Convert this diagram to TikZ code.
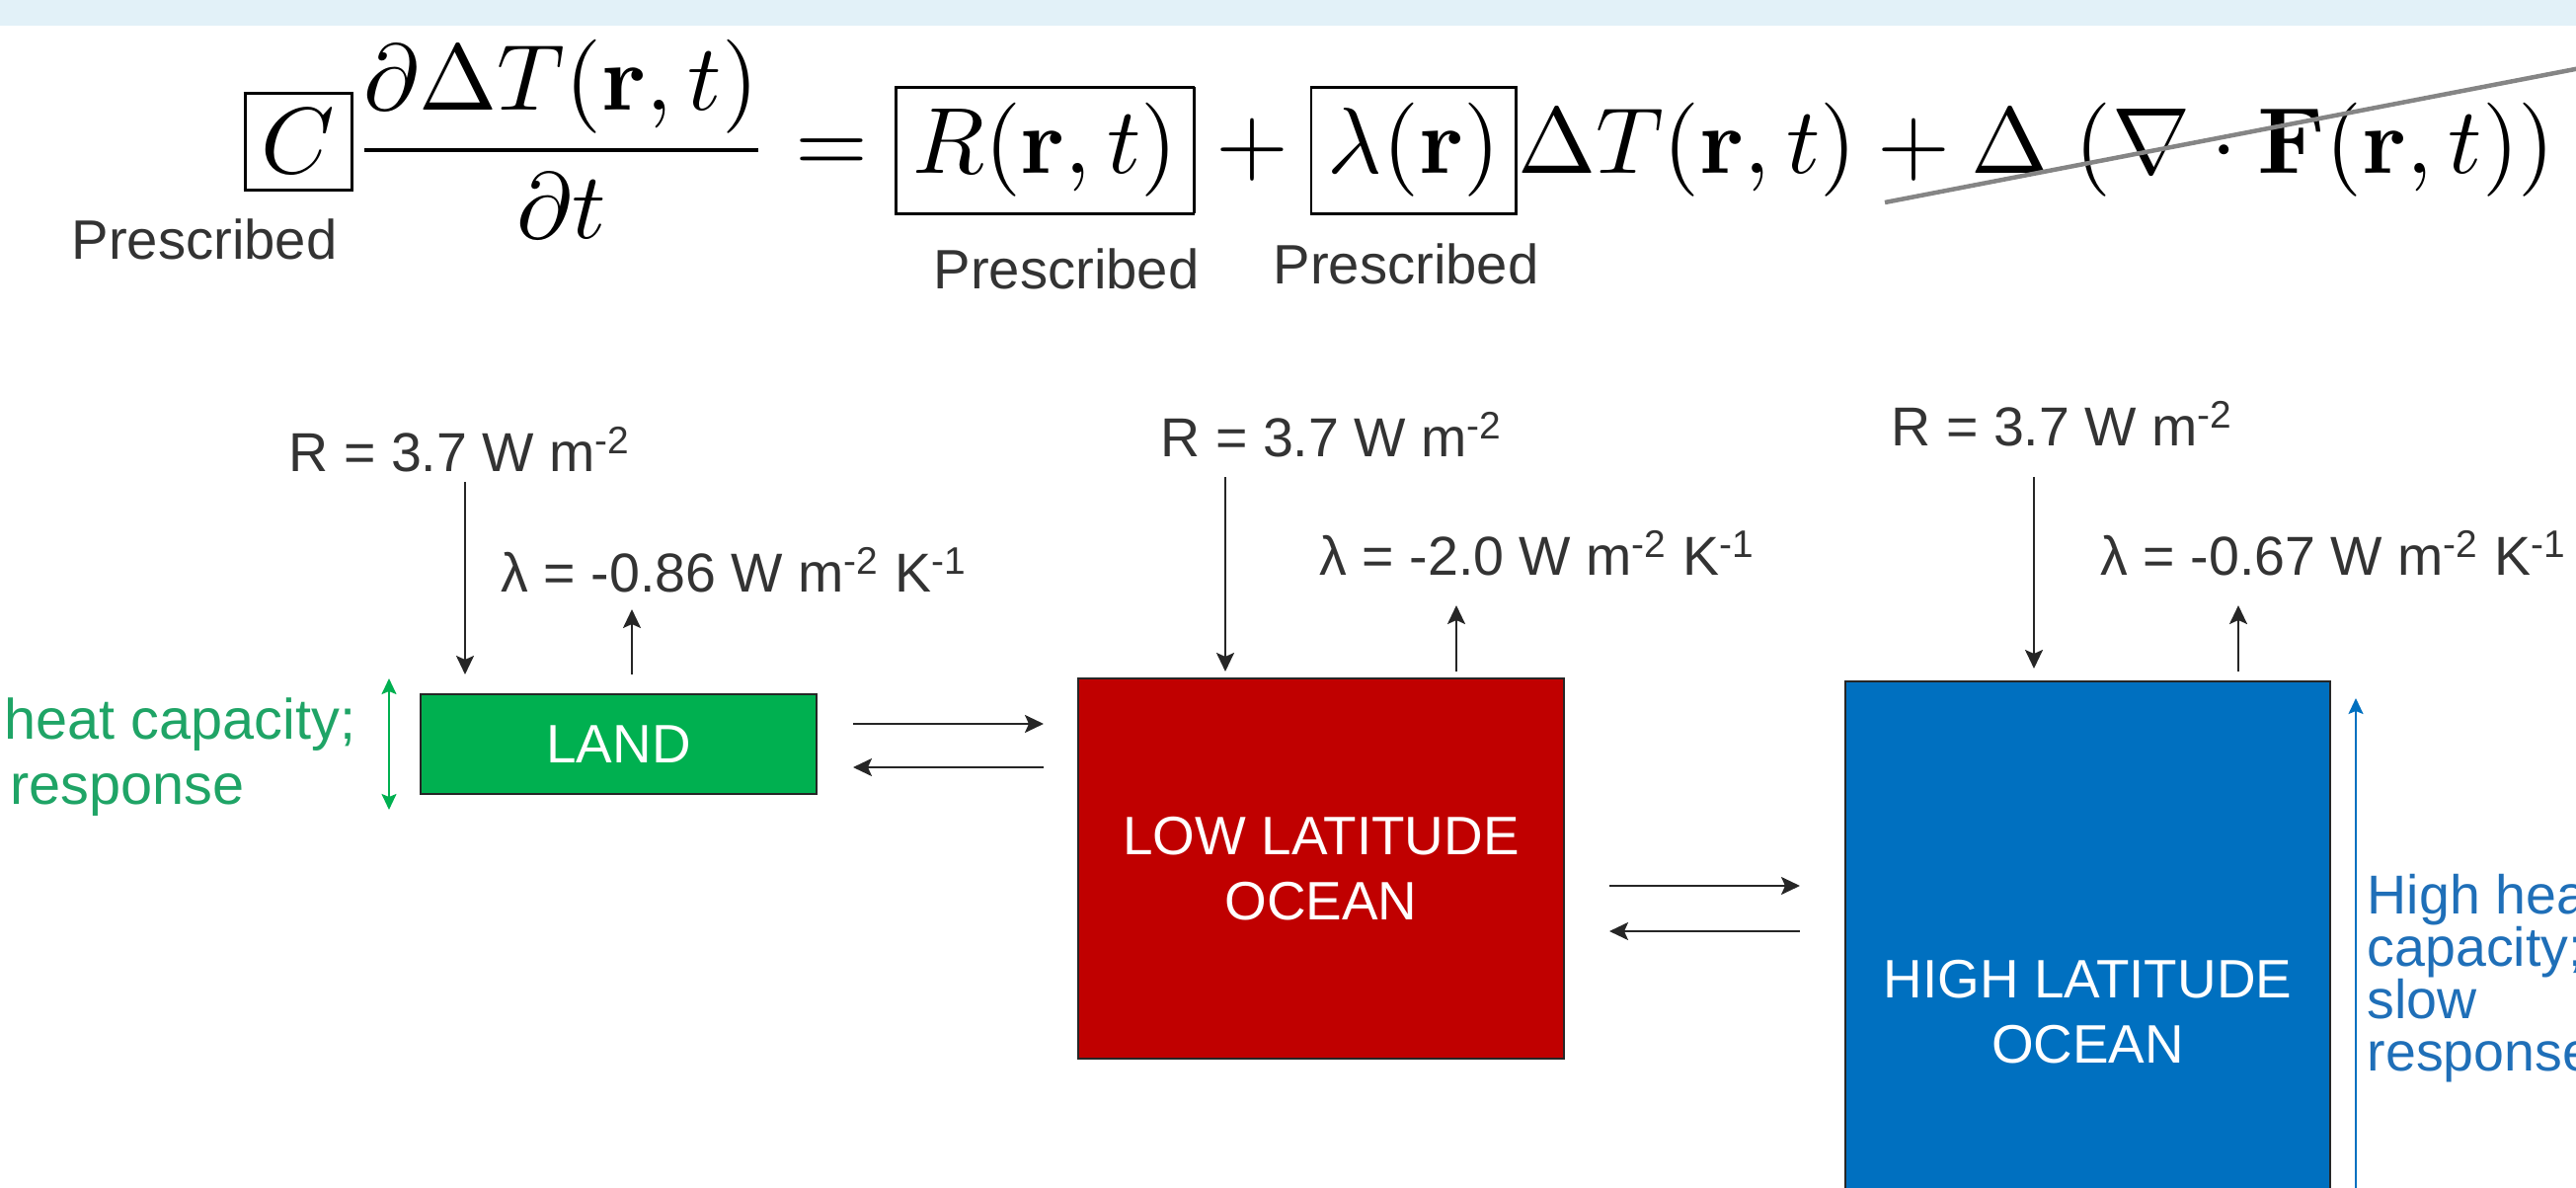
\documentclass[tikz,border=0pt]{standalone}
\usepackage[no-math]{fontspec}
\usepackage{amsmath}
\usepackage{graphicx}
\usetikzlibrary{arrows.meta}
\newfontfamily\arialf{Liberation Sans}
\definecolor{bandc}{HTML}{E2F1F8}
\definecolor{landg}{HTML}{00B050}
\definecolor{lowr}{HTML}{C00000}
\definecolor{highb}{HTML}{0070C0}
\definecolor{txtg}{HTML}{333333}
\definecolor{greentxt}{HTML}{1FA466}
\definecolor{bluetxt}{HTML}{1F6FB8}
\definecolor{strike}{HTML}{858585}
\tikzset{
  lbl/.style={font=\arialf\fontsize{15.8}{19}\selectfont, text=txtg, inner sep=0pt},
  presc/.style={font=\arialf\fontsize{16}{19}\selectfont, text=txtg, inner sep=0pt},
  boxs/.style={draw=black!85, line width=0.25mm, inner sep=0pt, align=center,
    text=white, font=\arialf\fontsize{15.6}{18.8}\selectfont},
  arr/.style={-{Stealth[length=1.9mm,width=1.8mm,inset=0.4mm]}, line width=0.22mm, draw=black!85},
  garr/.style={{Stealth[length=1.6mm,width=1.5mm,inset=0.3mm]}-{Stealth[length=1.6mm,width=1.5mm,inset=0.3mm]}, line width=0.2mm, draw=landg},
  barr/.style={-{Stealth[length=1.6mm,width=1.5mm,inset=0.3mm]}, line width=0.2mm, draw=highb},
  gtxt/.style={font=\arialf\fontsize{16.4}{19}\selectfont, text=greentxt, inner sep=0pt},
  btxt/.style={font=\arialf\fontsize{15.8}{19}\selectfont, text=bluetxt, inner sep=0pt}
}
\begin{document}
\begin{tikzpicture}[x=0.1mm,y=-0.1mm]
\clip (0,0) rectangle (2609,1203);
\fill[bandc] (0,0) rectangle (2609,26);

% equation
\node[anchor=base west, inner sep=0pt] (eq) at (246,176)
 {\setlength{\fboxsep}{1.6pt}\setlength{\fboxrule}{0.3pt}%
  \resizebox{234.1mm}{!}{$\displaystyle \fbox{$C$}\frac{\partial\Delta T(\mathbf{r},t)}{\partial t}
   = \fbox{$R(\mathbf{r},t)$} + \fbox{$\lambda(\mathbf{r})$}\Delta T(\mathbf{r},t)
   + \Delta\mskip2mu\left(\nabla\cdot\mathbf{F}(\mathbf{r},t)\right)$}};
\coordinate (s1) at (1909,205);
\coordinate (s2) at (2660,60);
\draw[strike, line width=0.45mm] (s1) -- (s2);

\node[presc] (p1) at (207,242) {Prescribed};
\node[presc] (p2) at (1080,272) {Prescribed};
\node[presc] (p3) at (1424,267) {Prescribed};

% boxes
\node[boxs, fill=landg, minimum width=40.1mm, minimum height=10.1mm] (land) at (626.5,753.5) {LAND};
\node[boxs, fill=lowr, minimum width=49.2mm, minimum height=38.5mm] (low) at (1338,879.5) {LOW LATITUDE\\OCEAN};
\node[boxs, fill=highb, minimum width=49.1mm, minimum height=67mm] (high) at (2114.5,1025) {HIGH LATITUDE\\OCEAN};

% labels
\node[lbl, anchor=base west] (r1) at (292,478) {R = 3.7 W m\textsuperscript{-2}};
\node[lbl, anchor=base west] (l1) at (507,600) {λ = -0.86 W m\textsuperscript{-2} K\textsuperscript{-1}};
\node[lbl, anchor=base west] (r2) at (1175,463) {R = 3.7 W m\textsuperscript{-2}};
\node[lbl, anchor=base west] (l2) at (1336,583) {λ = -2.0 W m\textsuperscript{-2} K\textsuperscript{-1}};
\node[lbl, anchor=base west] (r3) at (1915,452) {R = 3.7 W m\textsuperscript{-2}};
\node[lbl, anchor=base west] (l3) at (2127,583) {λ = -0.67 W m\textsuperscript{-2} K\textsuperscript{-1}};

% vertical arrows
\coordinate (d1s) at (471,488);  \coordinate (d1e) at (471,683);
\coordinate (u1s) at (640,683);  \coordinate (u1e) at (640,617);
\coordinate (d2s) at (1241,483); \coordinate (d2e) at (1241,680);
\coordinate (u2s) at (1475,680); \coordinate (u2e) at (1475,613);
\coordinate (d3s) at (2060,483); \coordinate (d3e) at (2060,677);
\coordinate (u3s) at (2267,680); \coordinate (u3e) at (2267,613);
\draw[arr] (d1s) -- (d1e);
\draw[arr] (u1s) -- (u1e);
\draw[arr] (d2s) -- (d2e);
\draw[arr] (u2s) -- (u2e);
\draw[arr] (d3s) -- (d3e);
\draw[arr] (u3s) -- (u3e);

% horizontal exchange arrows
\coordinate (a1) at (864,733);  \coordinate (a2) at (1057,733);
\coordinate (a3) at (1057,777); \coordinate (a4) at (864,777);
\coordinate (b1) at (1630,897); \coordinate (b2) at (1823,897);
\coordinate (b3) at (1823,943); \coordinate (b4) at (1630,943);
\draw[arr] (a1) -- (a2);
\draw[arr] (a3) -- (a4);
\draw[arr] (b1) -- (b2);
\draw[arr] (b3) -- (b4);

% green side note
\coordinate (g1) at (394,687); \coordinate (g2) at (394,820);
\draw[garr] (g1) -- (g2);
\node[gtxt, anchor=base west] (gt1) at (4,749) {heat capacity;};
\node[gtxt, anchor=base west] (gt2) at (10,814) {response};

% blue side note
\coordinate (bl1) at (2386,1240); \coordinate (bl2) at (2386,707);
\draw[barr] (bl1) -- (bl2);
\node[btxt, anchor=base west] (bt1) at (2397,925) {High heat};
\node[btxt, anchor=base west] (bt2) at (2397,978) {capacity;};
\node[btxt, anchor=base west] (bt3) at (2397,1031) {slow};
\node[btxt, anchor=base west] (bt4) at (2397,1084) {response};
\end{tikzpicture}
\end{document}
